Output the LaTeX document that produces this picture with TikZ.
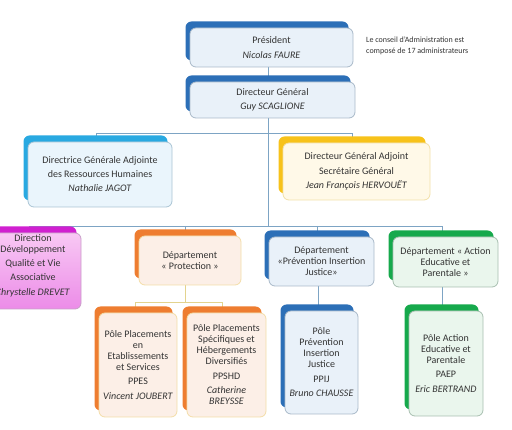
\documentclass[tikz,border=0pt]{standalone}
\usepackage{fontspec}
\setmainfont{Carlito}
\usetikzlibrary{shadows,calc}
\pgfdeclarelayer{lines}
\pgfsetlayers{lines,main}
\definecolor{txt}{HTML}{333333}
\definecolor{bBack}{HTML}{2C6FB7}
\definecolor{bFront}{HTML}{E9F1F9}
\definecolor{bBorder}{HTML}{A9B9C9}
\definecolor{cBack}{HTML}{29A9E1}
\definecolor{cFront}{HTML}{EAF5FC}
\definecolor{cBorder}{HTML}{A9C4D4}
\definecolor{yBack}{HTML}{F7C21A}
\definecolor{yFront}{HTML}{FFF9E8}
\definecolor{yBorder}{HTML}{F2E0A8}
\definecolor{oBack}{HTML}{EE7D30}
\definecolor{oFront}{HTML}{FCEFE7}
\definecolor{oBorder}{HTML}{F3DDA8}
\definecolor{gBack}{HTML}{16A94C}
\definecolor{gFront}{HTML}{EAF6ED}
\definecolor{gBorder}{HTML}{A8BFB0}
\definecolor{mBack}{HTML}{D020D0}
\definecolor{mTop}{HTML}{F8C8F4}
\definecolor{mBot}{HTML}{EC8CE8}
\definecolor{mBorder}{HTML}{C8A0C8}
\definecolor{lineblue}{HTML}{7DA4C4}
\definecolor{lineyellow}{HTML}{E3D38E}
\begin{document}
\begin{tikzpicture}[x=1pt,y=-1pt,
  every node/.style={font=\fontsize{10}{11}\selectfont, text=txt, align=center, inner sep=0pt},
  bx/.style n args={3}{rectangle, rounded corners=6pt, draw=#3, line width=0.8pt, fill=#2,
     general shadow={fill=#1, rounded corners=6pt, shadow xshift=-4.5pt, shadow yshift=6.5pt}},
  bluebox/.style={bx={bBack}{bFront}{bBorder}},
  cyanbox/.style={bx={cBack}{cFront}{cBorder}},
  yellowbox/.style={bx={yBack}{yFront}{yBorder}},
  orangebox/.style={bx={oBack}{oFront}{oBorder}},
  greenbox/.style={bx={gBack}{gFront}{gBorder}},
  magbox/.style={rectangle, rounded corners=6pt, draw=mBorder, line width=0.8pt,
     top color=mTop, bottom color=mBot,
     general shadow={fill=mBack, rounded corners=6pt, shadow xshift=-4.5pt, shadow yshift=6.5pt}},
  conn/.style={draw=lineblue, line width=0.7pt},
  connY/.style={draw=lineyellow, line width=0.7pt}]
\useasboundingbox (0,0) rectangle (512,430);
\clip (0,0) rectangle (512,430);

% helper coordinates
\coordinate (trunk) at (268,0);
\coordinate (b2) at (0,133);
\coordinate (b3) at (0,226);
\coordinate (b4) at (0,302);
\coordinate (xrh) at (96,0);
\coordinate (xsg) at (352,0);
\coordinate (xdd) at (29,0);
\coordinate (xpr) at (185,0);
\coordinate (xpi) at (317,0);
\coordinate (xae) at (442,0);
\coordinate (xpe) at (135,0);
\coordinate (xps) at (222,0);

% level 1
\node[bluebox, minimum width=163pt, minimum height=39pt] (pres) at (271.5,47.5)
  {Président\\[3.5pt]\textit{Nicolas FAURE}};
\node[bluebox, minimum width=165pt, minimum height=36pt] (dg) at (272.5,100)
  {Directeur Général\\[3pt]\textit{Guy SCAGLIONE}};

% level 2
\node[cyanbox, minimum width=144pt, minimum height=65pt] (dgarh) at (100,174.5)
  {Directrice Générale Adjointe\\[3pt]des Ressources Humaines\\[3pt]\textit{Nathalie JAGOT}};
\node[yellowbox, minimum width=147pt, minimum height=57pt] (dgasg) at (356.5,171.5)
  {Directeur Général Adjoint\\[3.5pt]Secrétaire Général\\[3pt]\textit{Jean François HERVOUËT}};

% level 3
\node[magbox, minimum width=96pt, minimum height=76pt] (ddqva) at (33,271) {};
\node (ddqvat) at (33,265.5)
  {Direction\\Développement\\[3pt]Qualité et Vie\\[3.5pt]Associative\\[3.5pt]\textit{Chrystelle DREVET}};
\node[orangebox, minimum width=102pt, minimum height=49pt] (prot) at (190,260.5)
  {Département\\« Protection »};
\node[bluebox, minimum width=105pt, minimum height=49pt] (pij) at (321.5,261.5)
  {Département\\«Prévention Insertion\\Justice»};
\node[greenbox, minimum width=105pt, minimum height=50pt] (aep) at (445.5,262)
  {Département « Action\\Educative et\\Parentale »};

% level 4
\node[orangebox, minimum width=78pt, minimum height=104pt] (ppes) at (138,365)
  {Pôle Placements\\en\\Etablissements\\et Services\\[3.5pt]PPES\\[3.5pt]\textit{Vincent JOUBERT}};
\node[orangebox, minimum width=79pt, minimum height=104pt] (ppshd) at (226.5,365)
  {Pôle Placements\\Spécifiques et\\Hébergements\\Diversifiés\\[3.5pt]PPSHD\\[3.5pt]\textit{Catherine}\\\textit{BREYSSE}};
\node[bluebox, minimum width=73pt, minimum height=103pt] (ppij) at (321.5,362.5)
  {Pôle\\Prévention\\Insertion\\Justice\\[3.5pt]PPIJ\\[3.5pt]\textit{Bruno CHAUSSE}};
\node[greenbox, minimum width=74pt, minimum height=105pt] (paep) at (446,363.5)
  {Pôle Action\\Educative et\\Parentale\\[3.5pt]PAEP\\[3.5pt]\textit{Eric BERTRAND}};

% note
\node[anchor=north west, align=left, font=\fontsize{8}{11}\selectfont, text=txt] (note) at (366,37)
  {Le conseil d’Administration est\\composé de 17 administrateurs};

% connectors
\begin{pgfonlayer}{lines}
\draw[conn] (pres.south -| trunk) -- (dg.north -| trunk);
\draw[conn] (dg.south -| trunk) -- (trunk |- b3);
\draw[conn] (xrh |- dgarh.north) -- (xrh |- b2) -- (xsg |- b2) -- (xsg |- dgasg.north);
\draw[conn] (xdd |- ddqva.north) -- (xdd |- b3) -- (xae |- b3) -- (xae |- aep.north);
\draw[conn] (xpr |- b3) -- (xpr |- prot.north);
\draw[conn] (xpi |- b3) -- (xpi |- pij.north);
\draw[connY] (xpr |- prot.south) -- (xpr |- b4);
\draw[connY] (xpe |- ppes.north) -- (xpe |- b4) -- (xps |- b4) -- (xps |- ppshd.north);
\draw[conn] ([xshift=-3.5pt]pij.south) -- ([xshift=-3.5pt]pij.south |- ppij.north);
\draw[conn] (xae |- aep.south) -- (xae |- paep.north);
\end{pgfonlayer}
\end{tikzpicture}
\end{document}
